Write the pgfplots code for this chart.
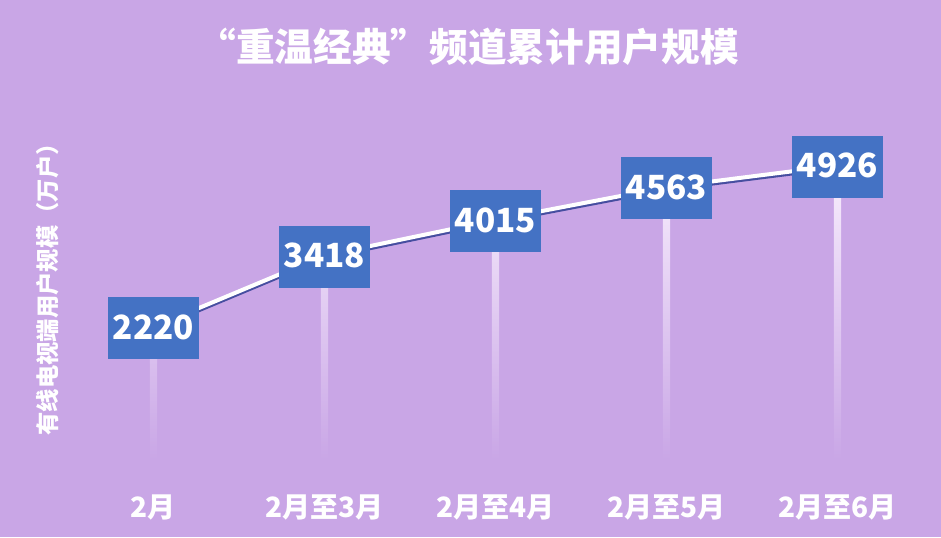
\documentclass[border=0pt]{standalone}
\usepackage{fontspec}
\setmainfont{Noto Sans CJK SC}
\usepackage{pgfplots}
\pgfplotsset{compat=1.18}

\definecolor{bg}{RGB}{201,166,230}
\definecolor{boxblue}{RGB}{68,114,196}
\definecolor{shadow}{RGB}{70,78,160}
\definecolor{bartop}{RGB}{248,238,253}

\begin{document}
\begin{tikzpicture}
% 1 px of the reference = 0.75pt
\fill[bg] (0,0) rectangle (705.75pt,402.75pt);
\useasboundingbox (0,0) rectangle (705.75pt,402.75pt);

\begin{axis}[
    at={(115.1pt,58.1pt)}, anchor=south west,
    scale only axis,
    width=513pt, height=223.8pt,
    xmin=0, xmax=4,
    ymin=0, ymax=5000,
    axis line style={draw=none},
    major tick length=0pt,
    ytick=\empty,
    xtick={0,1,2,3,4},
    xticklabels={2月,2月至3月,2月至4月,2月至5月,2月至6月},
    xticklabel style={font=\fontsize{21}{23}\selectfont\bfseries, text=white,
        anchor=center, yshift=-36pt},
    clip=false,
    point meta=explicit symbolic,
    nodes near coords,
    nodes near coords align={center},
    every node near coord/.append style={anchor=center, fill=boxblue,
        text=white, minimum width=68pt, minimum height=45pt, inner sep=0pt,
        font=\fontsize{25}{27}\selectfont\bfseries},
]
% fading stems
\addplot[ybar, bar width=5.5pt, bar shift=0pt, draw=none,
    top color=bartop, bottom color=bg, nodes near coords={}] coordinates {
    (0,2220) (1,3418) (2,4015) (3,4563) (4,4926)
};
% line shadow
\addplot[shadow, line width=3pt, yshift=-1.6pt, nodes near coords={}] coordinates {
    (0,2220) (1,3418) (2,4015) (3,4563) (4,4926)
};
% line with value boxes
\addplot[white, line width=3pt] coordinates {
    (0,2220) [2220] (1,3418) [3418] (2,4015) [4015] (3,4563) [4563] (4,4926) [4926]
};
\end{axis}

\node[text=white, font=\fontsize{29}{31}\selectfont\bfseries] at (351pt,367.5pt)
    {“重温经典”频道累计用户规模};
\node[text=white, rotate=90, font=\fontsize{17.5}{19}\selectfont\bfseries] at (36pt,190pt)
    {有线电视端用户规模（万户）};
\end{tikzpicture}
\end{document}
